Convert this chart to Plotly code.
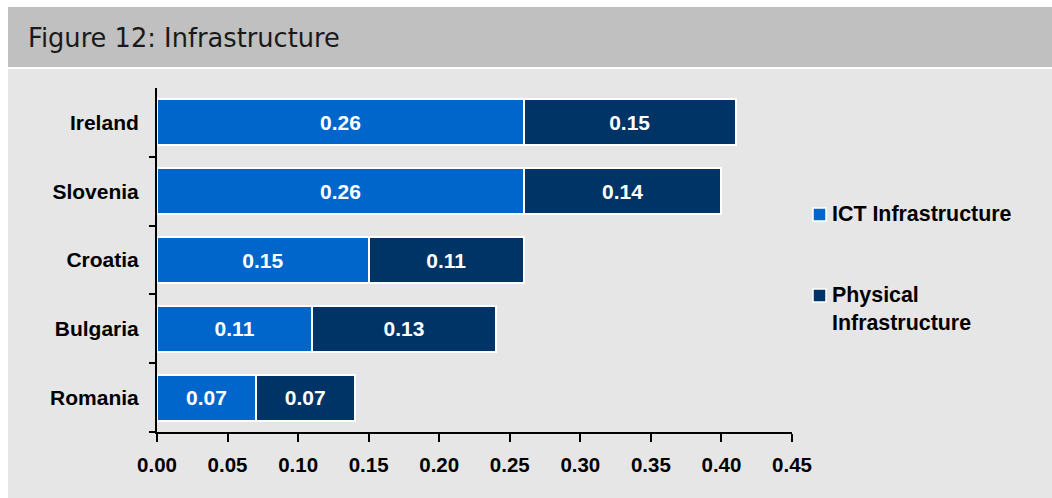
import plotly.graph_objects as go

# Infrastructure scores by country
countries = ["Ireland", "Slovenia", "Croatia", "Bulgaria", "Romania"]
ict_values = [0.26, 0.26, 0.15, 0.11, 0.07]
physical_values = [0.15, 0.14, 0.11, 0.13, 0.07]
series_names = ["ICT Infrastructure", "Physical<br>Infrastructure"]
series_colors = ["#0066cc", "#003366"]
x_ticks = [0.00, 0.05, 0.10, 0.15, 0.20, 0.25, 0.30, 0.35, 0.40, 0.45]
title_text = "Figure 12: Infrastructure"

W, H = 1052, 498
L, R, T, B = 157, 260, 88, 66
plot_w = W - L - R
plot_h = H - T - B


def px_x(p):
    return (p - L) / plot_w


def px_y(p):
    return (H - B - p) / plot_h


SANS = "Liberation Sans, Arial, sans-serif"
label_font = dict(family=SANS, size=21, color="#000000")
legend_font = dict(family=SANS, size=21.4, color="#000000")
tick_font = dict(family=SANS, size=20.5, color="#000000")
bar_font = dict(family=SANS, size=21, color="#ffffff")

fig = go.Figure()
for name, vals, color in zip(series_names, [ict_values, physical_values], series_colors):
    fig.add_trace(go.Bar(
        y=countries,
        x=vals,
        orientation="h",
        name=name,
        marker=dict(color=color, line=dict(color="#ffffff", width=2)),
        text=[f"<b>{v:.2f}</b>" for v in vals],
        textposition="inside",
        insidetextanchor="middle",
        textfont=bar_font,
        showlegend=False,
        cliponaxis=False,
    ))

shapes = [
    # title band
    dict(type="rect", xref="paper", yref="paper", x0=px_x(8), x1=px_x(W + 2),
         y0=px_y(67), y1=px_y(7), fillcolor="#c0c0c0", line_width=0, layer="below"),
    # chart panel
    dict(type="rect", xref="paper", yref="paper", x0=px_x(8), x1=px_x(W + 2),
         y0=px_y(H + 2), y1=px_y(69), fillcolor="#e6e6e6", line_width=0, layer="below"),
]

annotations = [
    dict(text=title_text, xref="paper", yref="paper", x=px_x(26), y=px_y(38),
         xanchor="left", yanchor="middle", showarrow=False,
         font=dict(family="DejaVu Sans, Verdana, sans-serif", size=25.7, color="#1a1a1a")),
]

# legend entries: square swatch + label
legend_rows = [214, 295]
for name, color, cy in zip(series_names, series_colors, legend_rows):
    shapes.append(dict(type="rect", xref="paper", yref="paper",
                       x0=px_x(813), x1=px_x(826), y0=px_y(cy + 7), y1=px_y(cy - 6),
                       fillcolor=color, line=dict(color="#ffffff", width=1.5)))
    annotations.append(dict(text=f"<b>{name}</b>", xref="paper", yref="paper",
                            x=px_x(830), y=px_y(cy - 14), xanchor="left", yanchor="top",
                            align="left", showarrow=False, font=legend_font))

fig.update_layout(
    width=W, height=H,
    margin=dict(l=L, r=R, t=T, b=B, pad=0),
    paper_bgcolor="#ffffff",
    plot_bgcolor="#e6e6e6",
    barmode="stack",
    bargap=0.33,
    shapes=shapes,
    annotations=annotations,
    xaxis=dict(
        range=[0, 0.45],
        tickvals=x_ticks,
        ticktext=[f"<b>{v:.2f}</b>" for v in x_ticks],
        tickfont=tick_font,
        ticks="outside", ticklen=8, tickwidth=2, tickcolor="#000000",
        showline=True, linecolor="#000000", linewidth=2,
        showgrid=False, zeroline=False,
        ticklabelstandoff=5,
    ),
    yaxis=dict(
        categoryorder="array",
        categoryarray=countries[::-1],
        tickvals=countries,
        ticktext=[f"<b>{c}</b>" for c in countries],
        tickfont=label_font,
        ticks="outside", ticklen=6, tickwidth=2, tickcolor="#000000",
        tickson="boundaries",
        showline=True, linecolor="#000000", linewidth=2,
        showgrid=False, zeroline=False,
        ticklabelstandoff=12,
    ),
    uniformtext=dict(minsize=10, mode="show"),
)

fig.write_html("out.html")
